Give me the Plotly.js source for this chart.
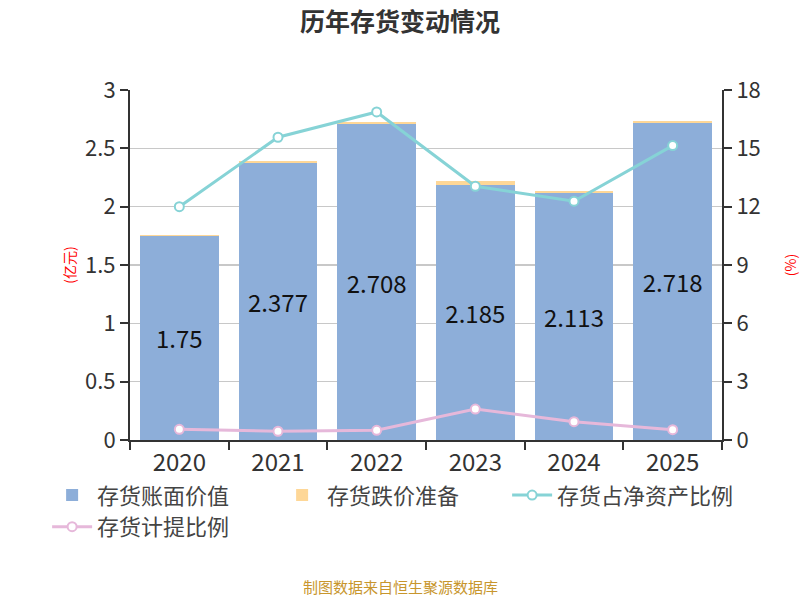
<!DOCTYPE html>
<html>
<head>
<meta charset="utf-8">
<script src="https://cdn.plot.ly/plotly-3.0.1.min.js"></script>
<style>
  body { margin: 0; background: #fff; }
  #chart { width: 800px; height: 600px; }
</style>
</head>
<body>
<div id="chart"></div>
<script>
var years = ['2020', '2021', '2022', '2023', '2024', '2025']
var bookValue = [1.75, 2.377, 2.708, 2.185, 2.113, 2.718]
var provision = [0.01, 0.011, 0.014, 0.035, 0.02, 0.015]
var netAssetRatio = [12.0, 15.57, 16.87, 13.05, 12.28, 15.14]
var provisionRatio = [0.55, 0.45, 0.5, 1.59, 0.94, 0.53]

var font = '"Noto Sans CJK SC", "Noto Sans", sans-serif'

var trace1 = {
    x: years,
    y: bookValue,
    type: 'bar',
    name: '存货账面价值',
    marker: { color: '#8daed9' },
    text: bookValue.map(String),
    textposition: 'inside',
    insidetextanchor: 'middle',
    constraintext: 'none',
    textangle: 0,
    insidetextfont: { size: 24, color: '#111', family: font },
    hoverinfo: 'none'
}

var trace2 = {
    x: years,
    y: provision,
    type: 'bar',
    name: '存货跌价准备',
    marker: { color: '#fed797' },
    hoverinfo: 'none'
}

var trace3 = {
    x: years,
    y: netAssetRatio,
    yaxis: 'y2',
    type: 'scatter',
    mode: 'lines+markers',
    name: '存货占净资产比例',
    line: { color: '#86d3d6', width: 3 },
    marker: { symbol: 'circle', size: 9, color: '#fff', line: { color: '#86d3d6', width: 2 } },
    hoverinfo: 'none'
}

var trace4 = {
    x: years,
    y: provisionRatio,
    yaxis: 'y2',
    type: 'scatter',
    mode: 'lines+markers',
    name: '存货计提比例',
    line: { color: '#e6b8da', width: 3 },
    marker: { symbol: 'circle', size: 9, color: '#fff', line: { color: '#e6b8da', width: 2 } },
    hoverinfo: 'none'
}

var data = [trace1, trace2, trace3, trace4]

var layout = {
    width: 800,
    height: 600,
    margin: { l: 130, r: 78, t: 90, b: 160 },
    paper_bgcolor: '#fff',
    plot_bgcolor: '#fff',
    font: { family: font, color: '#333' },
    barmode: 'stack',
    bargap: 0.2,
    title: {
        text: '<b>历年存货变动情况</b>',
        x: 0.5,
        xanchor: 'center',
        y: 0.963,
        yanchor: 'middle',
        font: { size: 25, color: '#333', family: font }
    },
    xaxis: {
        type: 'category',
        tickson: 'boundaries',
        ticks: 'outside',
        ticklen: 8,
        tickwidth: 2,
        tickcolor: '#333',
        showline: true,
        linecolor: '#333',
        linewidth: 2,
        showgrid: false,
        tickfont: { size: 24, color: '#333' }
    },
    yaxis: {
        range: [0, 3],
        dtick: 0.5,
        ticks: 'outside',
        ticklen: 8,
        tickwidth: 2,
        tickcolor: '#333',
        showline: true,
        linecolor: '#333',
        linewidth: 2,
        gridcolor: '#c8c8c8',
        gridwidth: 1.5,
        zeroline: false,
        tickfont: { size: 22, color: '#333' },
        title: { text: '(亿元)', font: { size: 14, color: 'red' }, standoff: 6 }
    },
    yaxis2: {
        range: [0, 18],
        dtick: 3,
        overlaying: 'y',
        side: 'right',
        ticks: 'outside',
        ticklen: 8,
        tickwidth: 2,
        tickcolor: '#333',
        showline: true,
        linecolor: '#333',
        linewidth: 2,
        showgrid: false,
        zeroline: false,
        tickfont: { size: 22, color: '#333' },
        title: { text: '(%)', font: { size: 14, color: 'red' }, standoff: 30 }
    },
    legend: {
        orientation: 'h',
        x: -0.14,
        xanchor: 'left',
        y: -0.098,
        yanchor: 'top',
        font: { size: 22, color: '#444' },
        traceorder: 'normal',
        itemwidth: 40,
        entrywidth: 175,
        tracegroupgap: 0
    },
    annotations: [{
        text: '制图数据来自恒生聚源数据库',
        xref: 'paper',
        yref: 'paper',
        x: (400 - 130) / 592,
        y: -0.455,
        xanchor: 'center',
        yanchor: 'bottom',
        showarrow: false,
        font: { size: 15, color: '#c8962d' }
    }]
}

Plotly.newPlot('chart', data, layout, { displayModeBar: false, staticPlot: true })
</script>
</body>
</html>
